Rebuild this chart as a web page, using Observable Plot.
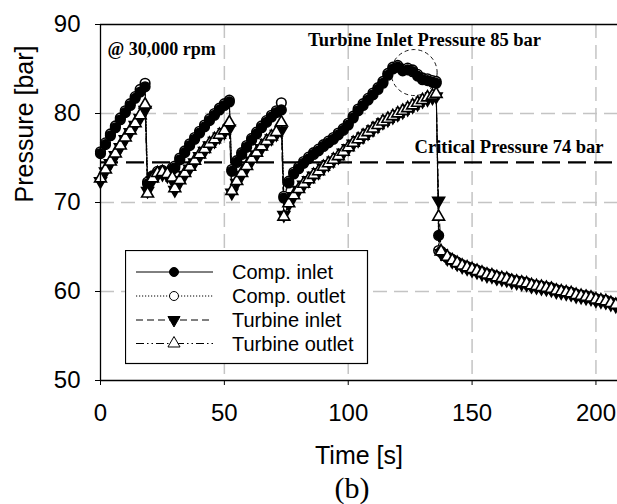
<!DOCTYPE html>
<html><head><meta charset="utf-8">
<script src="https://cdn.jsdelivr.net/npm/d3@7"></script>
<script src="https://cdn.jsdelivr.net/npm/@observablehq/plot@0.6"></script>
<style>
body{margin:0;background:#fff;}
#wrap{position:relative;width:617px;height:504px;overflow:hidden;}
#wrap svg{display:block;}
</style>
</head><body><div id="wrap"></div>
<script>
// ---- data ----
const time = [0,2,4,6,8,10,12,14,16,18,
  19,21,23,25,27,29,
  30,32,34,36,38,40,42,44,46,48,50,52,
  53,55,57,59,61,63,65,67,69,71,73,
  74,76,78,80,82,84,86,88,90,92,94,96,98,100,102,104,106,108,110,112,114,116,118,120,122,124,126,128,130,132,134,135.5,
  136.5,
  137.5,140,142,144,146,148,150,152,154,156,158,160,162,164,166,168,170,172,174,176,178,180,182,184,186,188,190,192,194,196,198,200,202,204,206,208];

const compInlet = [75.5,76.5,77.5,78.4,79.3,80.1,80.9,81.7,82.4,83.0,
  72.1,72.9,73.3,73.5,73.3,73.7,
  73.9,74.8,75.6,76.4,77.1,77.8,78.5,79.2,79.8,80.4,80.9,81.3,
  73.5,74.5,75.4,76.2,77.0,77.7,78.4,79.0,79.6,80.1,80.4,
  70.5,72.2,73.2,73.8,74.4,74.9,75.4,75.8,76.3,76.7,77.1,77.6,78.1,78.7,79.5,80.3,80.9,81.5,82.1,82.7,83.4,84.3,85.0,85.2,84.8,84.9,84.7,84.2,83.8,83.7,83.5,83.4,
  66.3,
  64.5,63.9,63.6,63.3,63.0,62.8,62.6,62.4,62.2,62.0,61.9,61.7,61.6,61.5,61.3,61.2,61.1,61.0,60.8,60.7,60.6,60.5,60.4,60.2,60.1,60.0,59.9,59.7,59.6,59.5,59.4,59.2,59.1,59.0,58.8,58.6];

const compOutlet = [75.7,76.7,77.7,78.6,79.5,80.3,81.1,81.9,82.7,83.4,
  72.3,73.0,73.5,73.6,73.4,73.9,
  74.1,75.0,75.8,76.6,77.3,78.0,78.7,79.4,80.0,80.6,81.1,81.5,
  73.7,74.7,75.6,76.4,77.2,77.9,78.6,79.2,79.8,80.3,81.2,
  70.7,72.4,73.4,74.0,74.6,75.1,75.6,76.0,76.5,76.9,77.3,77.8,78.3,78.9,79.7,80.5,81.1,81.7,82.3,82.9,83.6,84.5,85.2,85.4,85.0,85.1,84.9,84.4,84.0,83.9,83.7,83.6,
  64.6,
  64.4,63.8,63.5,63.2,62.9,62.7,62.5,62.3,62.1,61.9,61.8,61.6,61.5,61.4,61.2,61.1,61.0,60.9,60.7,60.6,60.5,60.4,60.3,60.1,60.0,59.9,59.8,59.6,59.5,59.4,59.3,59.1,59.0,58.9,58.7,58.5];

const turbineInlet = [72.4,73.5,74.4,75.3,76.2,77.1,77.9,78.7,79.5,80.4,
  71.3,72.5,73.1,73.2,73.0,72.5,
  71.4,72.3,73.1,73.8,74.5,75.2,75.8,76.4,76.9,77.4,77.9,78.3,
  71.1,72.2,73.1,73.9,74.7,75.4,76.1,76.7,77.2,77.7,78.1,
  68.6,69.8,70.7,71.4,72.0,72.5,73.0,73.4,73.9,74.3,74.7,75.1,75.6,76.1,76.6,77.0,77.4,77.8,78.2,78.6,79.0,79.3,79.6,79.9,80.2,80.5,80.8,81.1,81.4,81.6,81.8,81.9,
  70.2,
  64.3,63.7,63.4,63.1,62.8,62.6,62.4,62.2,62.0,61.8,61.7,61.5,61.4,61.3,61.1,61.0,60.9,60.8,60.6,60.5,60.4,60.3,60.2,60.0,59.9,59.8,59.7,59.5,59.4,59.3,59.2,59.0,58.9,58.8,58.6,58.4];

const turbineOutlet = [72.7,73.7,74.6,75.5,76.4,77.3,78.1,78.9,79.8,81.0,
  71.0,72.7,73.3,73.4,73.2,72.8,
  71.6,72.5,73.3,74.0,74.7,75.4,76.0,76.6,77.1,77.6,78.1,79.0,
  71.3,72.4,73.3,74.1,74.9,75.6,76.3,76.9,77.4,77.9,79.0,
  68.4,69.9,70.8,71.5,72.1,72.6,73.1,73.5,74.0,74.4,74.8,75.2,75.7,76.2,76.7,77.1,77.5,77.9,78.3,78.7,79.1,79.4,79.7,80.0,80.3,80.6,80.9,81.2,81.5,81.8,82.0,82.2,
  68.4,
  64.5,63.9,63.5,63.2,62.9,62.7,62.5,62.3,62.1,61.9,61.8,61.6,61.5,61.4,61.2,61.1,61.0,60.9,60.7,60.6,60.5,60.4,60.3,60.1,60.0,59.9,59.8,59.6,59.5,59.4,59.3,59.1,59.0,58.9,58.7,58.5];

const seriesNames = ["Comp. inlet","Comp. outlet","Turbine inlet","Turbine outlet"];
const xTicks = [0,50,100,150,200];
const yTicks = [50,60,70,80,90];
const xGrid = [50,100,150,200];
const yGrid = [60,70,80];
const criticalPressure = [74.5];
const highlight = [{t:126.6, v:84.6}];
const annotations = [
  {t:83.8, v:88.2, label:"Turbine Inlet Pressure 85 bar"},
  {t:126.8, v:76.2, label:"Critical Pressure 74 bar"}
];

// ---- build ----
const mk = vals => time.map((t,i)=>({t, v: vals[i]}));
const ci = mk(compInlet), co = mk(compOutlet), ti = mk(turbineInlet), to = mk(turbineOutlet);

const styles = {
  ci: {dash:null, symbol:"circle", fill:"black", rotate:0, r:4.8},
  co: {dash:"1.2,1.8", symbol:"circle", fill:"white", rotate:0, r:4.8},
  ti: {dash:"7,4", symbol:"triangle", fill:"black", rotate:180, r:4.4},
  to: {dash:"8,3,1.5,3,1.5,3", symbol:"triangle", fill:"white", rotate:0, r:4.4}
};
const line = (d,s) => Plot.line(d, {x:"t", y:"v", stroke:"black", strokeWidth:1, strokeDasharray:s.dash});
const dots = (d,s) => Plot.dot(d, {x:"t", y:"v", symbol:s.symbol, r:s.r, fill:s.fill, stroke:"black", strokeWidth:1.6, rotate:s.rotate});

const serif = "'Liberation Serif','Times New Roman',serif";

const chart = Plot.plot({
  width: 617, height: 504,
  marginTop: 24, marginLeft: 100, marginRight: 0, marginBottom: 124,
  style: {fontFamily:"'Liberation Sans',Arial,sans-serif", fontSize:"24px", background:"white", color:"black"},
  x: {domain:[0,208.7]},
  y: {domain:[50,90]},
  marks: [
    Plot.ruleX(xGrid, {stroke:"#c4c4c4", strokeWidth:1.5, strokeDasharray:"14,7"}),
    Plot.ruleY(yGrid, {stroke:"#c4c4c4", strokeWidth:1.5, strokeDasharray:"14,7"}),
    Plot.ruleY(criticalPressure, {stroke:"black", strokeWidth:2.2, strokeDasharray:"18,8"}),
    line(ci, styles.ci), line(co, styles.co), line(ti, styles.ti), line(to, styles.to),
    dots(co, styles.co), dots(ci, styles.ci), dots(ti, styles.ti), dots(to, styles.to),
    Plot.dot(highlight, {x:"t", y:"v", r:23, fill:"none", stroke:"black", strokeWidth:0.9, strokeDasharray:"4,3"}),
    Plot.ruleY([90], {stroke:"black", strokeWidth:1.3}),
    Plot.ruleY([50], {stroke:"black", strokeWidth:1.3}),
    Plot.ruleX([0], {stroke:"black", strokeWidth:1.3}),
    Plot.axisX(xTicks, {tickSize:5, tickPadding:18, label:null, fontSize:24}),
    Plot.axisY(yTicks, {tickSize:5, tickPadding:15, label:null, fontSize:24}),
    Plot.text(["Time [s]"], {frameAnchor:"bottom", dy:75, fontSize:25, lineAnchor:"middle"}),
    Plot.text(["(b)"], {frameAnchor:"bottom", dy:108, dx:-7, fontSize:30, fontFamily:serif, lineAnchor:"middle"}),
    Plot.text(["Pressure [bar]"], {frameAnchor:"left", dx:-76, rotate:-90, fontSize:25, lineAnchor:"middle"}),
    Plot.text(["@ 30,000 rpm"], {frameAnchor:"top-left", dx:7, dy:25, fontSize:18, fontWeight:"bold", fontFamily:serif, textAnchor:"start", lineAnchor:"middle"}),
    Plot.text(annotations, {x:"t", y:"v", text:"label", fontSize:18.5, fontWeight:"bold", fontFamily:serif, textAnchor:"start", lineAnchor:"middle"})
  ]
});
document.getElementById("wrap").appendChild(chart);

// ---- legend box (inside plot area) ----
const keys = ["ci","co","ti","to"];
const lg = d3.select("#wrap").append("svg")
  .attr("width",244).attr("height",115)
  .style("position","absolute").style("left","125px").style("top","250px");
lg.append("rect").attr("x",0.5).attr("y",0.5).attr("width",242).attr("height",113)
  .attr("fill","white").attr("stroke","black").attr("stroke-width",1.2);
const rowY = [22, 46, 70, 93.5];
keys.forEach((k,i)=>{
  const s = styles[k], y = rowY[i];
  lg.append("line").attr("x1",11).attr("x2",88).attr("y1",y).attr("y2",y)
    .attr("stroke","black").attr("stroke-width",1).attr("stroke-dasharray", s.dash);
  const sym = s.symbol === "circle" ? d3.symbolCircle : d3.symbolTriangle;
  lg.append("path").attr("d", d3.symbol(sym, Math.PI*4.5*4.5)())
    .attr("transform",`translate(49,${y}) rotate(${s.rotate})`)
    .attr("fill", s.fill).attr("stroke","black").attr("stroke-width",1);
  lg.append("text").attr("x",107).attr("y",y).attr("dy","0.35em")
    .attr("font-family","'Liberation Sans',Arial,sans-serif").attr("font-size",20)
    .text(seriesNames[i]);
});
</script>
</body></html>
